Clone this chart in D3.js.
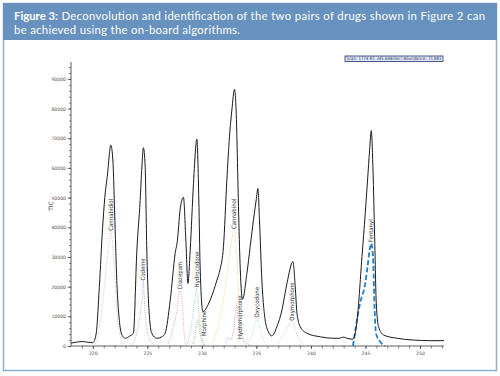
<!DOCTYPE html>
<html>
<head>
<meta charset="utf-8">
<script src="https://cdn.jsdelivr.net/npm/d3@7"></script>
<style>
  body { margin: 0; background: #fff; }
  svg { display: block; }
</style>
</head>
<body>
<svg id="chart"></svg>
<script>
// ---- data ----
// TIC trace: [retention time (s), abundance]
var ticTimes = [218.0, 218.5, 219.0, 219.5, 220.0, 220.3, 220.6, 220.9, 221.1, 221.35, 221.65, 221.85, 222.0, 222.2, 222.45, 222.7, 223.0, 223.4,
  223.72, 224.04, 224.34, 224.5, 224.64, 224.8, 224.95, 225.1, 225.4, 225.87, 226.33, 226.63, 227.1, 227.55, 227.76, 228.0, 228.31, 228.53, 228.72,
  228.93, 229.23, 229.54, 229.72, 229.84, 230.09, 230.76, 231.38, 231.68, 231.98, 232.29, 232.53, 232.75, 232.99, 233.15, 233.3, 233.45, 233.72,
  234.13, 234.43, 234.73, 234.98, 235.14, 235.28, 235.5, 235.8, 236.1, 236.42, 236.88, 237.34, 237.8, 238.35, 238.56, 238.72, 239.02, 239.63,
  240.85, 242.07, 242.6, 243.0, 243.3, 243.85, 244.2, 244.68, 244.98, 245.19, 245.38, 245.53, 245.69, 245.84, 245.99, 246.2, 246.66, 247.9,
  249.4, 250.9, 252.2];
var ticValues = [1000, 1300, 1500, 1300, 1100, 4000, 20000, 40000, 50000, 58000, 67700, 62000, 45000, 22000, 8000, 3500, 2600, 3400,
  4300, 32300, 49000, 60400, 66800, 60400, 32300, 15500, 4300, 2600, 3100, 4300, 15500, 31200, 35700, 45800, 50100, 35700, 21100,
  32300, 54800, 69700, 49200, 26700, 11600, 15500, 22200, 26000, 33500, 55900, 70500, 79500, 86500, 78400, 55900, 33500, 15700,
  24500, 33500, 42500, 49200, 53100, 42500, 22200, 8800, 4800, 3400, 6500, 12100, 21100, 28400, 20000, 11000, 6500, 4300,
  3100, 2600, 2600, 3000, 2600, 2300, 7600, 30100, 44700, 55900, 66000, 72600, 59300, 36800, 14400, 6500, 3700, 2600,
  2000, 1800, 1800];

// deconvoluted components
var compNames = ["Cannabidiol", "Codeine", "Diazepam", "Hydrocodone", "Morphine", "Cannabinol", "Hydromorphone", "Oxycodone", "Oxymorphone", "Fentanyl"];
var compColors = ["#e4a3c8", "#9c9ce6", "#e3899c", "#7fc3b3", "#6fb77a", "#f2c764", "#a98bd0", "#8fd3e6", "#f0b3a3", "#1f80cf"];
var compTimes = [
  [220.2, 220.6, 221.0, 221.4, 221.65, 221.9, 222.2, 222.6, 223.0],
  [223.5, 224.0, 224.3, 224.55, 224.64, 224.75, 225.0, 225.4, 225.8],
  [226.8, 227.3, 227.7, 228.0, 228.2, 228.4, 228.6],
  [228.6, 229.0, 229.3, 229.54, 229.75, 230.0, 230.3],
  [229.1, 229.4, 229.6, 229.8, 230.0, 230.3],
  [230.8, 231.3, 231.8, 232.3, 232.7, 232.99, 233.2, 233.5, 233.8, 234.1],
  [232.2, 232.4, 232.6, 232.9, 233.2, 233.4, 233.7, 234.1, 234.5],
  [234.0, 234.5, 234.85, 235.05, 235.3, 235.7, 236.2],
  [236.8, 237.3, 237.8, 238.26, 238.6, 239.0, 239.5],
  [243.85, 244.5, 244.98, 245.19, 245.38, 245.53, 245.69, 245.84, 245.96, 246.35, 246.8]
];
var compValues = [
  [0, 6000, 18000, 32000, 38500, 30000, 12000, 2000, 0],
  [0, 4000, 10000, 17000, 21700, 14000, 5000, 1000, 0],
  [0, 5000, 12000, 18900, 14000, 3000, 0],
  [0, 6000, 14000, 19400, 10000, 3000, 0],
  [0, 4000, 9000, 5000, 1500, 0],
  [0, 4000, 12000, 24000, 35000, 39100, 30000, 10000, 2000, 0],
  [0, 2700, 2000, 5000, 13800, 6000, 3000, 1000, 0],
  [0, 3000, 7000, 9300, 6000, 1500, 0],
  [0, 2500, 6000, 8200, 5000, 1500, 0],
  [0, 14400, 21100, 26700, 32300, 34600, 30100, 12100, 4300, 1400, 0]
];
// where each name label starts (time, abundance)
var labelTimes = [221.65, 224.64, 228.0, 229.54, 230.15, 232.99, 233.45, 235.05, 238.26, 245.53];
var labelValues = [38500, 21700, 18900, 19400, 3000, 39100, 2000, 9300, 8200, 34600];

var yTicks = [0, 10000, 20000, 30000, 40000, 50000, 60000, 70000, 80000, 90000];
var xTicks = [220, 225, 230, 235, 240, 245, 250];

var titleBold = "Figure 3:";
var titleLine1 = "Deconvolution and identification of the two pairs of drugs shown in Figure 2 can";
var titleLine2 = "be achieved using the on-board algorithms.";
var scanText = "Scan: 1774 RT: 245.648(Sec) Abundance: 71,881";

// ---- layout ----
var W = 500, H = 376;
var svg = d3.select("#chart").attr("width", W).attr("height", H);

// frame + header band
svg.append("rect").attr("x", 3.5).attr("y", 3.5).attr("width", 493).attr("height", 367)
  .attr("fill", "#fff").attr("stroke", "#8eb0d3").attr("stroke-width", 1.5);
svg.append("rect").attr("x", 3).attr("y", 3).attr("width", 494).attr("height", 37)
  .attr("fill", "#6791be");

// title: bold lead-in + rest, line 1 stretched to end near x=485
var titleFont = "Lato, 'Open Sans', sans-serif";
var fs = 11.3;
var tb = svg.append("text").attr("x", 14).attr("y", 20)
  .attr("fill", "#fff").style("font-family", titleFont).style("font-size", fs + "px")
  .style("font-weight", "bold").text(titleBold);
var restX = 14 + tb.node().getComputedTextLength() + 3.5;
svg.append("text").attr("x", restX).attr("y", 20)
  .attr("fill", "#fff").style("font-family", titleFont).style("font-size", fs + "px")
  .attr("textLength", 485 - restX).attr("lengthAdjust", "spacing")
  .text(titleLine1);
svg.append("text").attr("x", 14).attr("y", 34)
  .attr("fill", "#fff").style("font-family", titleFont).style("font-size", fs + "px")
  .attr("textLength", 226).attr("lengthAdjust", "spacing")
  .text(titleLine2);

// scales
var x = d3.scaleLinear().domain([218, 252.2]).range([71, 444]);
var y = d3.scaleLinear().domain([0, 95700]).range([346, 62]);

// Y axis with minor ticks
svg.append("g")
  .attr("transform", "translate(71,0)")
  .call(d3.axisLeft(y).tickValues(d3.range(0, 95000, 2000)).tickSize(2).tickFormat(""))
  .call(g => g.select(".domain").remove());
var yAx = svg.append("g")
  .attr("transform", "translate(71,0)")
  .call(d3.axisLeft(y).tickValues(yTicks).tickSize(3.5).tickPadding(1.5).tickFormat(d3.format("d")));
yAx.select(".domain").attr("d", "M0," + y.range()[1] + "V" + y.range()[0]);
yAx.selectAll("text").style("font-size", "4.6px").style("font-family", "'DejaVu Sans', sans-serif").attr("fill", "#555");

// X axis with minor ticks
svg.append("g")
  .attr("transform", "translate(0,346)")
  .call(d3.axisBottom(x).tickValues(d3.range(219, 253, 1)).tickSize(2.5).tickFormat(""))
  .call(g => g.select(".domain").remove());
var xAx = svg.append("g")
  .attr("transform", "translate(0,346)")
  .call(d3.axisBottom(x).tickValues(xTicks).tickSize(3).tickPadding(2.5));
xAx.select(".domain").attr("d", "M" + x.range()[0] + ",0H" + x.range()[1]);
xAx.selectAll("text").style("font-size", "4.6px").style("font-family", "'DejaVu Sans', sans-serif").attr("fill", "#555");
svg.selectAll(".tick line").attr("stroke", "#333").attr("stroke-width", 0.6);
svg.selectAll(".domain").attr("stroke", "#333").attr("stroke-width", 0.8);

// Y axis label
svg.append("text")
  .attr("transform", "translate(53,206) rotate(-90)")
  .style("text-anchor", "middle")
  .style("font-size", "6px").style("font-family", "'DejaVu Sans', sans-serif")
  .attr("fill", "#333")
  .text("TIC");

// component curves
var line = d3.line()
  .x(function (d) { return x(d[0]); })
  .y(function (d) { return y(d[1]); })
  .curve(d3.curveMonotoneX);

compNames.forEach(function (name, i) {
  var pts = compTimes[i].map(function (t, j) { return [t, compValues[i][j]]; });
  var isFent = name === "Fentanyl";
  svg.append("path")
    .datum(pts)
    .attr("fill", "none")
    .attr("stroke", compColors[i])
    .attr("stroke-width", isFent ? 1.8 : 0.8)
    .attr("stroke-dasharray", isFent ? "5,2.5" : "1,1.3")
    .attr("d", line);
});

// TIC
var ticPts = ticTimes.map(function (t, j) { return [t, ticValues[j]]; });
svg.append("path")
  .datum(ticPts)
  .attr("fill", "none")
  .attr("stroke", "#1a1a1a")
  .attr("stroke-width", 1)
  .attr("stroke-linejoin", "round")
  .attr("d", line);

// component name labels
svg.selectAll("text.cname")
  .data(compNames)
  .join("text")
  .attr("class", "cname")
  .attr("transform", function (d, i) {
    return "translate(" + (x(labelTimes[i]) + 2) + "," + (y(labelValues[i]) - 1) + ") rotate(-90)";
  })
  .style("font-size", "6px").style("font-family", "'DejaVu Sans Condensed', 'DejaVu Sans', sans-serif")
  .attr("fill", "#333")
  .text(function (d) { return d; });

// scan info box
svg.append("rect").attr("x", 345).attr("y", 56).attr("width", 98).attr("height", 5.5)
  .attr("fill", "#e3e9f4").attr("stroke", "#1e2f6a").attr("stroke-width", 0.8);
svg.append("text").attr("x", 346.5).attr("y", 60.3)
  .style("font-size", "4.5px").style("font-family", "'DejaVu Sans', sans-serif")
  .attr("fill", "#1e2f6a")
  .attr("textLength", 95).attr("lengthAdjust", "spacingAndGlyphs")
  .text(scanText);
</script>
</body>
</html>
